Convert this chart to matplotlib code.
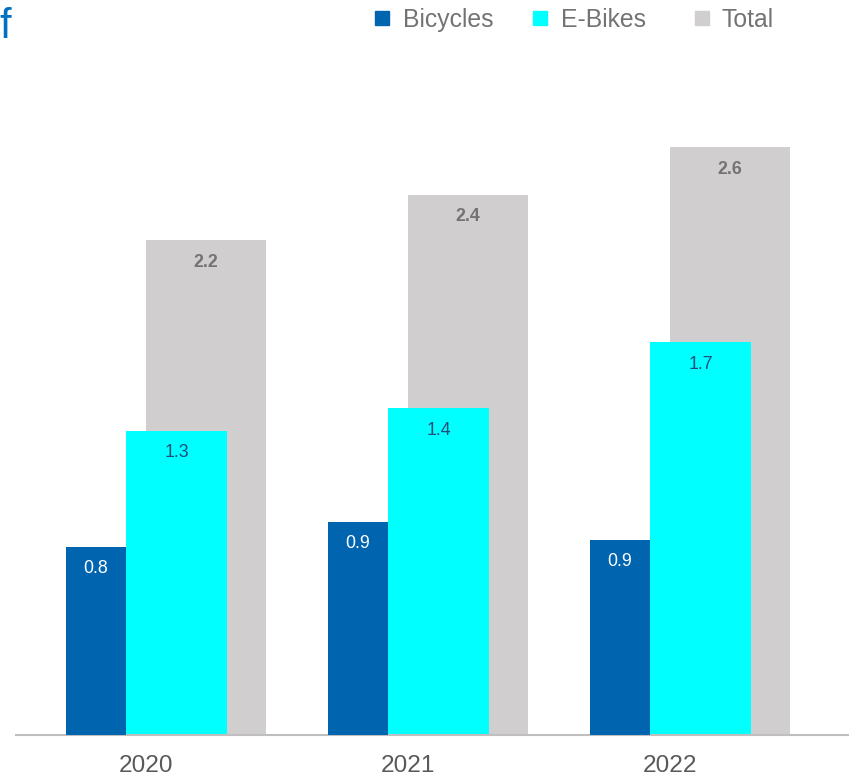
import matplotlib
matplotlib.use("Agg")
import matplotlib.pyplot as plt
import numpy as np

plt.rcParams['font.family'] = ['Liberation Sans', 'DejaVu Sans']

years = ["2020", "2021", "2022"]
bicycles = [0.83, 0.94, 0.86]
ebikes = [1.34, 1.44, 1.73]
total = [2.18, 2.38, 2.59]
series_names = ["Bicycles", "E-Bikes", "Total"]

c_bic = "#0064AF"
c_ebk = "#00FFFF"
c_tot = "#D0CECE"

W, H = 849, 778
fig = plt.figure(figsize=(W / 100, H / 100), dpi=100)
px = 262.0  # pixels per category
ax = fig.add_axes([16 / W, 43 / H, (W - 16) / W, 681 / H])
ax.set_xlim(-(146.5 - 16) / px, (W - 146.5) / px)
ax.set_ylim(0, 3)

x = np.arange(len(years))
b_tot = ax.bar(x - 0.002, total, width=120 / px, align='edge', color=c_tot, zorder=1)
b_ebk = ax.bar(x - 20.5 / px, ebikes, width=101 / px, align='edge', color=c_ebk, zorder=2)
b_bic = ax.bar(x - 80.5 / px, bicycles, width=60 / px, align='edge', color=c_bic, zorder=3)

def label(bars, vals, color, weight):
    for r, v in zip(bars, vals):
        ax.annotate(f"{v:.1f}", (r.get_x() + r.get_width() / 2, r.get_height()),
                    xytext=(0, -22 * 0.72), textcoords='offset points',
                    ha='center', va='center', fontsize=12.8, color=color,
                    fontweight=weight, zorder=5)

label(b_bic, bicycles, "white", "normal")
label(b_ebk, ebikes, "#1F4E79", "normal")
label(b_tot, total, "#737373", "bold")

for s in ["top", "right", "left"]:
    ax.spines[s].set_visible(False)
ax.spines["bottom"].set_color("#BFBFBF")
ax.spines["bottom"].set_linewidth(1.5)
ax.set_yticks([])
ax.set_xticks(x)
ax.set_xticklabels(years, fontsize=17.6, color="#595959")
ax.tick_params(axis='x', length=0, pad=14.5)

# title fragment
fig.text(-1 / W, 1 - 38.5 / H, "f", fontsize=30, color="#0070C0", ha='left', va='baseline')

# legend
leg_items = [(375, 402.7, c_bic), (533, 561, c_ebk), (695, 721, c_tot)]
for (mx, tx, col), name in zip(leg_items, series_names):
    fig.patches.append(plt.Rectangle((mx / W, 1 - 25 / H), 14 / W, 14 / H,
                                     transform=fig.transFigure, color=col, figure=fig))
    fig.text(tx / W, 1 - 27.3 / H, name, fontsize=17.8, color="#737373",
             ha='left', va='baseline')

fig.savefig("out.png", dpi=100)
